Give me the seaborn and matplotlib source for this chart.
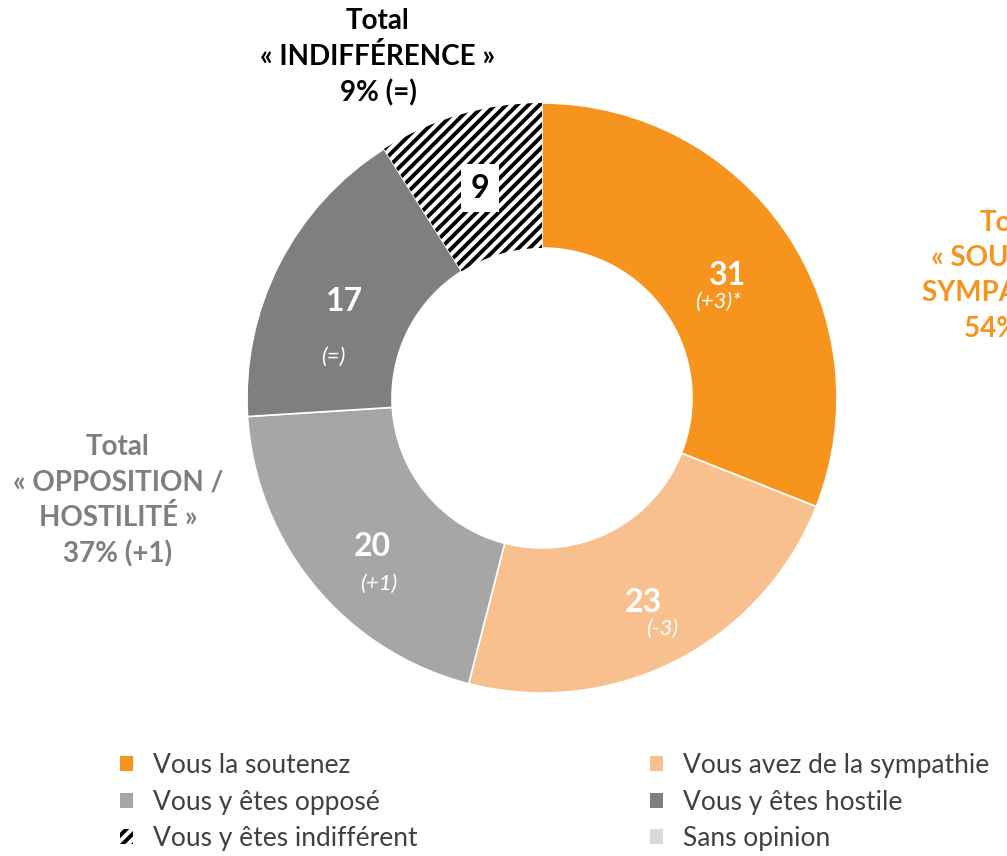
import numpy as np
import matplotlib
matplotlib.use("Agg")
import matplotlib.pyplot as plt
import seaborn as sns
from matplotlib.patches import Patch

# data
categories = ["Vous la soutenez", "Vous avez de la sympathie", "Vous y êtes opposé",
              "Vous y êtes hostile", "Vous y êtes indifférent", "Sans opinion"]
values = [31, 23, 20, 17, 9, 0]
changes = ["(+3)*", "(-3)", "(+1)", "(=)", "", ""]
colors = ["#F7941D", "#F9C08F", "#A6A6A6", "#7F7F7F", "white", "#D9D9D9"]

totals = [
    ("Total\n« INDIFFÉRENCE »\n9% (=)", "black"),
    ("Total\n« OPPOSITION /\nHOSTILITÉ »\n37% (+1)", "#7F7F7F"),
    ("Total\n« SOUTIEN /\nSYMPATHIE »\n54% (=)", "#F7941D"),
]

sns.set_theme(style="white")
plt.rcParams['font.family'] = ['Lato', 'DejaVu Sans']
plt.rcParams['hatch.linewidth'] = 2.8

W, H = 1007, 856
fig = plt.figure(figsize=(W / 100, H / 100), dpi=100)
ax = fig.add_axes([0, 0, 1, 1])

cx, cy = 542, H - 398
r_out, ring = 295, 145

shown = [(v, c, cat) for v, c, cat in zip(values, colors, categories) if v > 0]
wedges, _ = ax.pie([s[0] for s in shown], colors=[s[1] for s in shown],
                   startangle=90, counterclock=False, radius=r_out, center=(cx, cy),
                   wedgeprops=dict(width=ring, edgecolor="white", linewidth=1.2))
# hatched "indifférent" slice
hw = wedges[4]
hw.set_hatch("///")
hw.set_edgecolor("black")
hw.set_linewidth(0)

ax.set_xlim(0, W)
ax.set_ylim(0, H)
ax.set_aspect("equal")
ax.axis("off")

# slice labels: number + change in italics (offsets in px)
offsets = [(1, -3, -8, -29), (0, -6, 19, -33), (2, -7, 8, -44), (1, -5, -11, -60), (0, -4, 0, 0)]
r_mid = r_out - ring / 2
start = 90.0
for i, w in enumerate(wedges):
    v = shown[i][0]
    mid = np.deg2rad(start - v * 3.6 / 2)
    start -= v * 3.6
    x = cx + r_mid * np.cos(mid)
    y = cy + r_mid * np.sin(mid)
    dx, dy, dx2, dy2 = offsets[i]
    if i == 4:
        ax.text(x + dx, y + dy, str(v), ha="center", va="center", fontsize=23,
                fontweight="bold", color="black",
                bbox=dict(facecolor="white", edgecolor="none", pad=7))
    else:
        ax.text(x + dx, y + dy, str(v), ha="center", va="center", fontsize=23,
                fontweight="bold", color="white")
        ax.text(x + dx2, y + dy2, changes[i], ha="center", va="center", fontsize=16,
                fontstyle="italic", color="white")

# group totals
tot_pos = [(378, 57), (118, 501), (1011, 276)]
for (txt, col), (tx, ty) in zip(totals, tot_pos):
    ax.text(tx, H - ty, txt, ha="center", va="center", fontsize=20,
            fontweight="bold", color=col, linespacing=1.42)

# legend
handles = []
for v, c, cat in zip(values, colors, categories):
    if cat == "Vous y êtes indifférent":
        handles.append(Patch(facecolor="white", edgecolor="black", hatch="///", linewidth=0, label=cat))
    else:
        handles.append(Patch(facecolor=c, edgecolor="none", label=cat))
order = [0, 2, 4, 1, 3, 5]
leg = fig.legend([handles[k] for k in order], [categories[k] for k in order],
                 loc="upper left", bbox_to_anchor=(120 / W, 1 - 753 / H), ncol=2,
                 frameon=False, fontsize=19, handlelength=0.5, handleheight=0.5,
                 handletextpad=0.75, columnspacing=8.8, labelspacing=0.44,
                 borderpad=0, borderaxespad=0, labelcolor="#404040")

fig.savefig("out.png", dpi=100)
